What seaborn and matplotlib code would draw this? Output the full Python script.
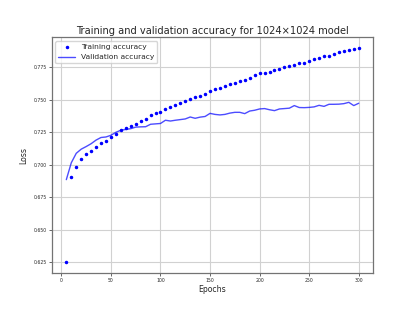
import matplotlib
matplotlib.use("Agg")
import matplotlib.pyplot as plt
from matplotlib.ticker import MultipleLocator
import pandas as pd
import seaborn as sns

epochs = list(range(5, 301, 5))

train_acc = [
    0.6250, 0.6907, 0.6984, 0.7041, 0.7080, 0.7107, 0.7134, 0.7165, 0.7185, 0.7213,
    0.7238, 0.7265, 0.7280, 0.7298, 0.7315, 0.7334, 0.7354, 0.7385, 0.7396, 0.7408,
    0.7429, 0.7444, 0.7457, 0.7473, 0.7488, 0.7503, 0.7519, 0.7531, 0.7549, 0.7570,
    0.7583, 0.7593, 0.7606, 0.7619, 0.7631, 0.7647, 0.7652, 0.7665, 0.7691, 0.7704,
    0.7708, 0.7716, 0.7729, 0.7740, 0.7752, 0.7765, 0.7768, 0.7781, 0.7785, 0.7801,
    0.7812, 0.7824, 0.7839, 0.7842, 0.7852, 0.7866, 0.7876, 0.7881, 0.7889, 0.7899,
]

val_acc = [
    0.6885, 0.7015, 0.7088, 0.7120, 0.7140, 0.7162, 0.7190, 0.7210, 0.7214, 0.7227,
    0.7250, 0.7266, 0.7272, 0.7278, 0.7290, 0.7292, 0.7293, 0.7312, 0.7315, 0.7318,
    0.7343, 0.7337, 0.7343, 0.7348, 0.7353, 0.7368, 0.7358, 0.7367, 0.7372, 0.7396,
    0.7388, 0.7384, 0.7388, 0.7398, 0.7404, 0.7404, 0.7394, 0.7414, 0.7420, 0.7430,
    0.7433, 0.7424, 0.7417, 0.7430, 0.7433, 0.7436, 0.7456, 0.7441, 0.7440, 0.7442,
    0.7446, 0.7458, 0.7450, 0.7466, 0.7466, 0.7467, 0.7471, 0.7481, 0.7456, 0.7474,
]

df = pd.DataFrame({"epoch": epochs, "train": train_acc, "val": val_acc})

sns.set_style("whitegrid", {
    "axes.edgecolor": "0.45",
    "grid.color": "0.82",
    "xtick.bottom": True,
    "ytick.left": True,
})

fig = plt.figure(figsize=(4.15, 3.12), dpi=100)
ax = fig.add_axes([0.1246, 0.126, 0.775, 0.754])

ax.plot(df["epoch"], df["train"], "b.", markersize=3, label="Training accuracy")
sns.lineplot(data=df, x="epoch", y="val", ax=ax, color="b", alpha=0.7,
             linewidth=1.0, label="Validation accuracy")

ax.yaxis.set_major_locator(MultipleLocator(0.025))
ax.xaxis.set_major_locator(MultipleLocator(50))
ax.tick_params(axis="both", labelsize=3.3, length=2, width=0.6, color="0.3", pad=1.5)
for s in ax.spines.values():
    s.set_linewidth(0.9)

ax.set_title("Training and validation accuracy for 1024\u00d71024 model", fontsize=7.1, pad=2.5)
ax.set_xlabel("Epochs", fontsize=5.6, labelpad=2)
ax.set_ylabel("Loss", fontsize=5.6, labelpad=4)
ax.legend(loc="upper left", fontsize=5.4, frameon=True, borderpad=0.4,
          handlelength=2.2)

fig.savefig("out.png", dpi=100)
